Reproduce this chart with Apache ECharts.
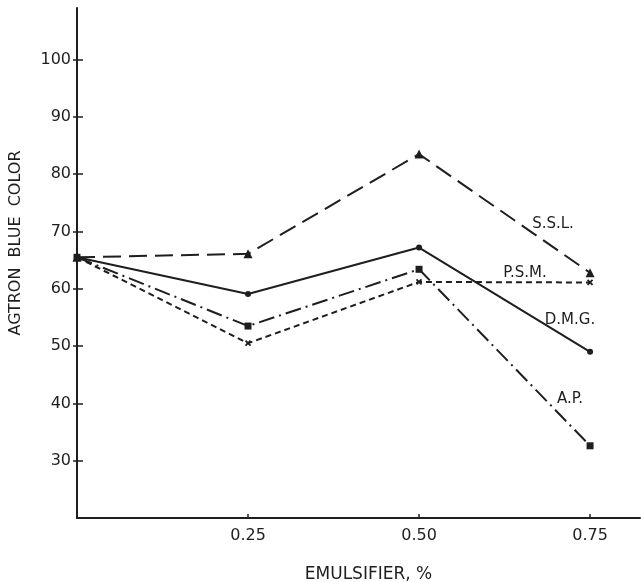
<!DOCTYPE html>
<html>
<head>
<meta charset="utf-8">
<script src="https://cdn.jsdelivr.net/npm/echarts@6/dist/echarts.min.js"></script>
<style>html,body{margin:0;padding:0;background:#fff;}#c{width:641px;height:582px;}</style>
</head>
<body>
<div id="c"></div>
<script>
var emulsifier = [0, 0.25, 0.50, 0.75];
var xTickValues = [0.25, 0.50, 0.75];
var yTickValues = [30, 40, 50, 60, 70, 80, 90, 100];
var sslValues = [65.5, 66.1, 83.5, 62.8];
var dmgValues = [65.5, 59.1, 67.2, 49.0];
var psmValues = [65.5, 50.5, 61.2, 61.1];
var apValues  = [65.5, 53.5, 63.4, 32.6];
var seriesNames = ['S.S.L.', 'D.M.G.', 'P.S.M.', 'A.P.'];

function pairs(vals) { return emulsifier.map(function (x, i) { return [x, vals[i]]; }); }

var ink = '#1e1e1e';
var font = 'DejaVu Sans';
var chart = echarts.init(document.getElementById('c'), null, {renderer: 'canvas'});

function lineSeries(name, vals, dash, symbol, size) {
  return {
    name: name, type: 'line', data: pairs(vals), yAxisIndex: 0,
    lineStyle: {color: ink, width: 2, type: dash},
    symbol: symbol, symbolSize: size, showSymbol: true,
    itemStyle: {color: ink, borderColor: ink, borderWidth: symbol.indexOf('path') === 0 ? 1.8 : 0},
    emphasis: {disabled: true}, animation: false, z: 3
  };
}

var labelStyle = function (t, x, y) {
  return {type: 'text', x: x, y: y, style: {text: t, fill: ink, font: '15px DejaVu Sans', textAlign: 'center', textVerticalAlign: 'middle'}};
};

chart.setOption({
  animation: false,
  grid: {left: 77, right: 1, top: 8, bottom: 64, containLabel: false, outerBoundsMode: 'none'},
  xAxis: {
    type: 'value', min: 0, max: 0.823,
    axisLine: {lineStyle: {color: ink, width: 2}},
    axisTick: {show: true, inside: true, length: 4, lineStyle: {color: ink, width: 1.5}, customValues: xTickValues},
    axisLabel: {customValues: xTickValues, color: ink, fontFamily: font, fontSize: 16, margin: 10,
      formatter: function (v) { return v.toFixed(2); }},
    splitLine: {show: false},
    name: 'EMULSIFIER, %', nameLocation: 'middle', nameGap: 48,
    nameTextStyle: {color: ink, fontFamily: font, fontSize: 17, padding: [0, 0, 0, 20]}
  },
  yAxis: [{
    type: 'value', min: 20, max: 109, position: 'left',
    axisLine: {lineStyle: {color: ink, width: 2}},
    axisTick: {show: true, inside: true, length: 6, lineStyle: {color: ink, width: 1.5}, customValues: yTickValues},
    axisLabel: {customValues: yTickValues, color: ink, fontFamily: font, fontSize: 16, margin: 6},
    splitLine: {show: false},
    name: 'AGTRON  BLUE  COLOR', nameLocation: 'middle', nameGap: 53, nameRotate: 90,
    nameTextStyle: {color: ink, fontFamily: font, fontSize: 16, padding: [0, 0, 0, 40]}
  }, {
    type: 'value', min: 20, max: 109, position: 'left', offset: 0,
    axisLine: {show: false},
    axisTick: {show: true, inside: false, length: 4, lineStyle: {color: ink, width: 1.5}, customValues: yTickValues},
    axisLabel: {show: false},
    splitLine: {show: false}
  }],
  series: [
    lineSeries(seriesNames[0], sslValues, [18, 8], 'triangle', 9),
    lineSeries(seriesNames[1], dmgValues, 'solid', 'circle', 6),
    lineSeries(seriesNames[2], psmValues, [6, 4], 'path://M0,0L10,10M10,0L0,10', 5),
    lineSeries(seriesNames[3], apValues, [16, 5, 2, 5], 'rect', 7)
  ],
  graphic: [
    labelStyle(seriesNames[0], 553, 224),
    labelStyle(seriesNames[2], 525, 273),
    labelStyle(seriesNames[1], 570, 320),
    labelStyle(seriesNames[3], 570, 399)
  ]
});
</script>
</body>
</html>
